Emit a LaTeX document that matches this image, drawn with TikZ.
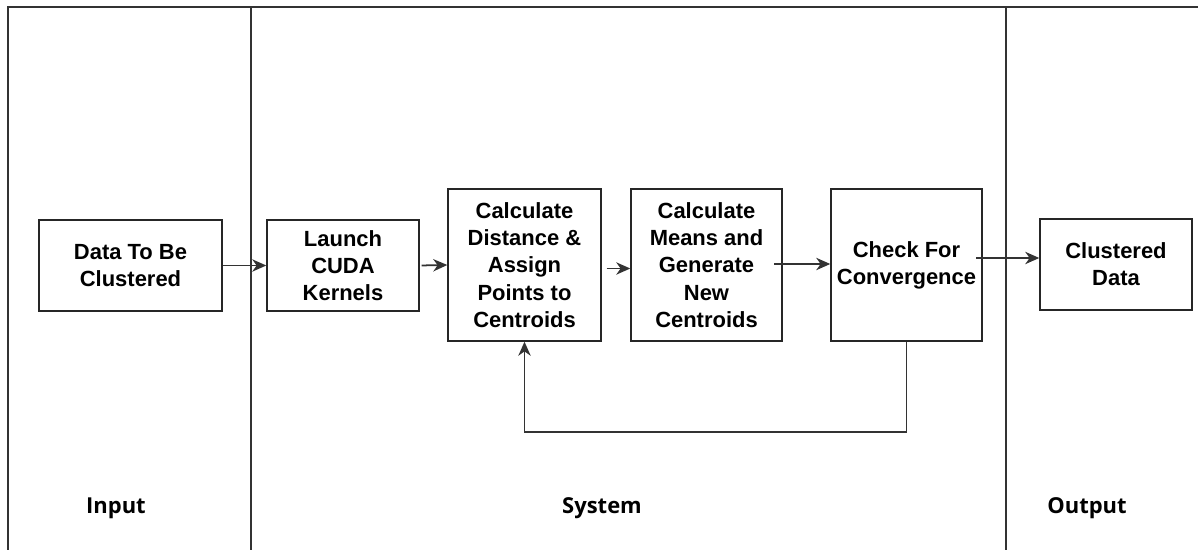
\documentclass[tikz,border=0pt]{standalone}
\usepackage{fontspec}
\setmainfont{Liberation Sans}
\newfontfamily\labelfont{Open Sans}
\usetikzlibrary{arrows.meta}

\tikzset{
  blk/.style={draw=black!85, line width=0.8pt, align=center, inner sep=0pt,
    font=\fontsize{12.5}{15.5}\selectfont\bfseries},
  arr/.style={draw=black!80, line width=1pt, -{Stealth[length=8pt,width=7pt,inset=2.5pt]}},
  lane/.style={draw=black!80, line width=1pt},
  lanelabel/.style={font=\labelfont\fontsize{12.5}{15}\selectfont\bfseries}
}

\begin{document}
\begin{tikzpicture}[x=0.02cm, y=-0.02cm]
\useasboundingbox (0,0) rectangle (1198,550);
% swim lanes
\draw[lane] (1198,7) -- (8,7) -- (8,550);
\foreach \x in {251,1006}{\draw[lane] (\x,7) -- (\x,550);
}
\node[lanelabel] (inp) at (116,508) {Input};
\node[lanelabel] (sys) at (602,508) {System};
\node[lanelabel] (outp) at (1087,508) {Output};

% blocks
\node[blk, minimum width=3.66cm, minimum height=1.82cm] (data) at (130.5,265.5) {Data To Be\\Clustered};
\node[blk, minimum width=3.04cm, minimum height=1.82cm] (launch) at (343,265.5) {Launch\\CUDA\\Kernels};
\node[blk, minimum width=3.06cm, minimum height=3.04cm] (dist) at (524.5,265) {Calculate\\Distance \&\\Assign\\Points to\\Centroids};
\node[blk, minimum width=3.02cm, minimum height=3.04cm] (means) at (706.5,265) {Calculate\\Means and\\Generate\\New\\Centroids};
\node[blk, minimum width=3.02cm, minimum height=3.04cm] (check) at (906.5,265) {Check For\\Convergence};
\node[blk, minimum width=3.04cm, minimum height=1.82cm] (clust) at (1116,264.5) {Clustered\\Data};

% arrows
\draw[arr] (data.east) -- (launch.west);
\draw[arr, shorten <=0.04cm] (launch.east) -- (dist.west);
\draw[arr, shorten <=0.1cm] ([yshift=-0.07cm]dist.east) -- ([yshift=-0.07cm]means.west);
\coordinate (m1) at (774,264);
\draw[arr] (m1) -- (m1 -| check.west);
\coordinate (c1) at (976,258);
\draw[arr] (c1) -- (c1 -| clust.west);
\draw[arr] (check.south) -- ++(0,90) -| (dist.south);
\end{tikzpicture}
\end{document}
